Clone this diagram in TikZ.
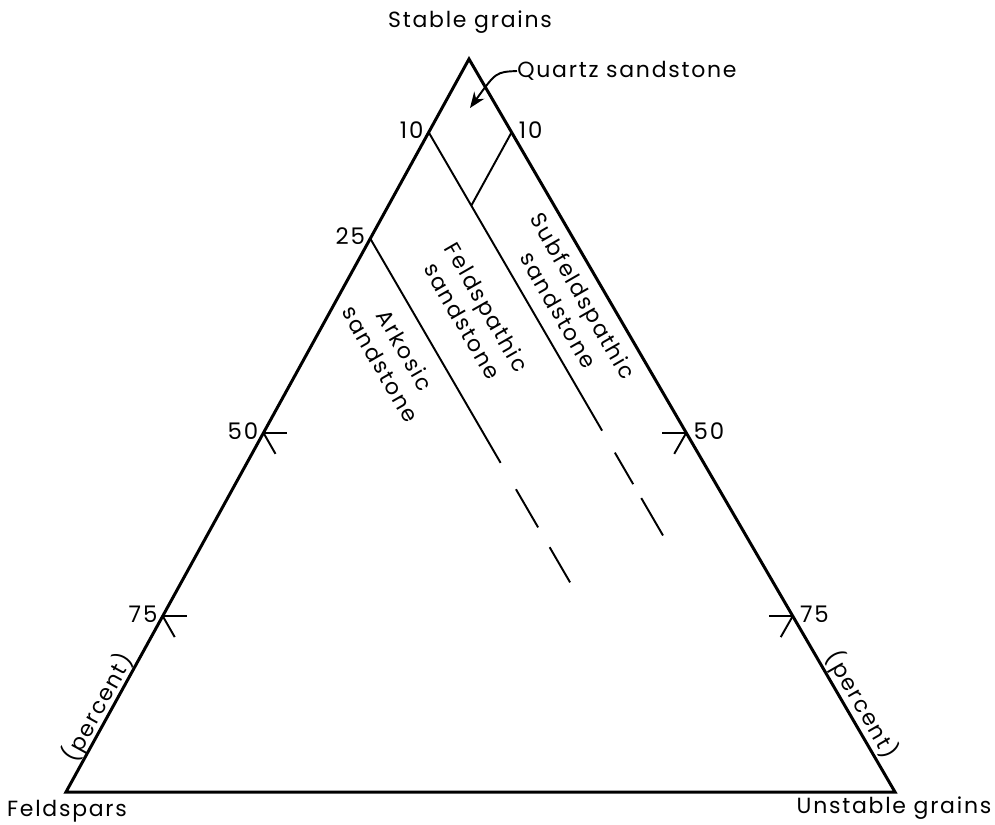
\documentclass[tikz,border=0pt]{standalone}
\usepackage{fontspec}
\setmainfont{Poppins}[LetterSpace=8]
\usetikzlibrary{arrows.meta, calc}
\tikzset{
  side/.style={line width=1.7pt, line join=miter},
  split/.style={line width=1.1pt},
  tickmark/.style={line width=1.1pt},
  lbl/.style={font=\fontsize{12.5}{14}\selectfont, inner sep=0pt},
  num/.style={font=\fontsize{13}{14}\selectfont, inner sep=0pt},
  zone/.style={font=\fontsize{12.5}{16}\selectfont, align=center, inner sep=0pt},
}
\begin{document}
\begin{tikzpicture}[x=0.02cm, y=-0.02cm]
  \useasboundingbox (0,0) rectangle (995,825);
  \coordinate (apex) at (469,59);
  \coordinate (feld) at (66,792);
  \coordinate (unst) at (895,792);
  \draw[side] (apex) -- (feld) -- (unst) -- cycle;
  % points on the two sides
  \foreach \f/\t in {0.1/10, 0.245/25, 0.51/50, 0.76/75}
    \coordinate (l\t) at ($(apex)!\f!(feld)$);
  \foreach \f/\t in {0.1/10, 0.51/50, 0.76/75}
    \coordinate (r\t) at ($(apex)!\f!(unst)$);
  \coordinate (l10end) at ($(l10)+(unst)-(apex)$);
  \coordinate (l25end) at ($(l25)+(unst)-(apex)$);
  \coordinate (qcorner) at ($(l10)!0.1!(l10end)$);
  % class boundaries
  \draw[split] (r10) -- (qcorner);
  \draw[split] (l10) -- ($(l10)!0.407!(l10end)$);
  \foreach \a/\b in {0.437/0.480, 0.499/0.550}
    \draw[split] ($(l10)!\a!(l10end)$) -- ($(l10)!\b!(l10end)$);
  \draw[split] (l25) -- ($(l25)!0.306!(l25end)$);
  \foreach \a/\b in {0.342/0.394, 0.421/0.469}
    \draw[split] ($(l25)!\a!(l25end)$) -- ($(l25)!\b!(l25end)$);
  % ticks
  \foreach \t in {50,75} {
    \draw[tickmark] (l\t) -- ++(24,0);
    \draw[tickmark] (l\t) -- ++(12,21);
    \draw[tickmark] (r\t) -- ++(-24,0);
    \draw[tickmark] (r\t) -- ++(-12,21);
  }
  \foreach \t in {10,25,50,75}
    \node[num, anchor=east] (nl\t) at ($(l\t)+(-5,-2)$) {\t};
  \foreach \t in {10,50,75}
    \node[num, anchor=west] (nr\t) at ($(r\t)+(7,-2)$) {\t};
  % corner labels
  \node[lbl] (stable) at (470,22) {Stable grains};
  \node[lbl] (feldlbl) at (67,811) {Feldspars};
  \node[lbl] (unstlbl) at (894,808) {Unstable grains};
  \node[lbl, rotate=61] (pctl) at (98,708) {(percent)};
  \node[lbl, rotate=-60] (pctr) at (862,705) {(percent)};
  \node[lbl, anchor=west] (qzlbl) at (517,71) {Quartz sandstone};
  \coordinate (qztip) at (470,108);
  \draw[split, -{Stealth[length=9pt, width=7pt]}] (qzlbl.west) .. controls (496,72) .. (qztip);
  % fields
  \node[zone, rotate=-60] (subf) at (571,303) {Subfeldspathic\\sandstone};
  \node[zone, rotate=-60] (feldsp) at (475,314) {Feldspathic\\sandstone};
  \node[zone, rotate=-60] (ark) at (393,357) {Arkosic\\sandstone};
\end{tikzpicture}
\end{document}
